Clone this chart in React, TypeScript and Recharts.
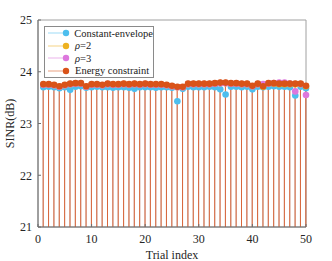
import {
  Bar,
  ComposedChart,
  Label,
  Line,
  ReferenceArea,
  XAxis,
  YAxis,
} from "recharts";

const trials = Array.from({ length: 50 }, (_, i) => i + 1);

const constantEnvelope = [
  23.7, 23.71, 23.7, 23.68, 23.7, 23.65, 23.71, 23.72, 23.69, 23.7,
  23.71, 23.7, 23.7, 23.69, 23.7, 23.7, 23.69, 23.67, 23.7, 23.7,
  23.7, 23.69, 23.7, 23.7, 23.69, 23.43, 23.67, 23.71, 23.7, 23.7,
  23.7, 23.71, 23.7, 23.66, 23.56, 23.71, 23.71, 23.7, 23.71, 23.66,
  23.71, 23.7, 23.71, 23.72, 23.71, 23.71, 23.7, 23.54, 23.71, 23.68,
];

const rho2 = [
  23.75, 23.75, 23.74, 23.71, 23.74, 23.76, 23.77, 23.77, 23.71, 23.75,
  23.75, 23.74, 23.76, 23.75, 23.75, 23.76, 23.75, 23.76, 23.75, 23.76,
  23.75, 23.75, 23.75, 23.74, 23.72, 23.7, 23.7, 23.76, 23.76, 23.76,
  23.76, 23.76, 23.77, 23.78, 23.78, 23.77, 23.77, 23.76, 23.76, 23.72,
  23.76, 23.71, 23.77, 23.77, 23.76, 23.76, 23.76, 23.76, 23.76, 23.72,
];

const rho3 = [
  23.75, 23.75, 23.74, 23.71, 23.74, 23.76, 23.77, 23.77, 23.71, 23.75,
  23.75, 23.74, 23.76, 23.75, 23.75, 23.76, 23.75, 23.76, 23.75, 23.76,
  23.75, 23.75, 23.75, 23.74, 23.72, 23.7, 23.7, 23.76, 23.76, 23.76,
  23.76, 23.76, 23.77, 23.78, 23.78, 23.77, 23.77, 23.76, 23.76, 23.72,
  23.76, 23.76, 23.77, 23.78, 23.79, 23.79, 23.77, 23.62, 23.76, 23.55,
];

const energy = [
  23.76, 23.76, 23.75, 23.72, 23.75, 23.77, 23.78, 23.78, 23.72, 23.76,
  23.76, 23.75, 23.77, 23.76, 23.76, 23.77, 23.76, 23.77, 23.76, 23.77,
  23.76, 23.76, 23.76, 23.75, 23.73, 23.71, 23.71, 23.77, 23.77, 23.77,
  23.77, 23.77, 23.78, 23.79, 23.79, 23.78, 23.78, 23.77, 23.77, 23.73,
  23.77, 23.72, 23.78, 23.78, 23.77, 23.77, 23.77, 23.77, 23.77, 23.73,
];

const xTicks = [0, 10, 20, 30, 40, 50];
const yTicks = [21, 22, 23, 24, 25];

const series = [
  { key: "ce", name: "Constant-envelope", color: "#4DBEEE" },
  { key: "r2", name: "\u03c1=2", color: "#EDB120" },
  { key: "r3", name: "\u03c1=3", color: "#DD77DD" },
  { key: "en", name: "Energy constraint", color: "#D95319" },
];

const data = trials.map((t, i) => ({
  trial: t,
  ce: constantEnvelope[i],
  r2: rho2[i],
  r3: rho3[i],
  en: energy[i],
}));

const font = "'Times New Roman', Times, 'Liberation Serif', 'DejaVu Serif', serif";
const axisColor = "#6e6e6e";

function StemLegend() {
  return (
    <div
      style={{
        position: "absolute",
        left: 44,
        top: 26,
        border: "1px solid #8a8a8a",
        background: "#fff",
        width: 108,
        height: 50,
        fontFamily: font,
        fontSize: 10.5,
        color: "#1a1a1a",
      }}
    >
      {series.map((s) => (
        <div
          key={s.key}
          style={{ display: "flex", alignItems: "center", height: 12.5 }}
        >
          <svg width={28} height={10} style={{ marginLeft: 2 }}>
            <line x1={1} y1={5} x2={21} y2={5} stroke={s.color} strokeOpacity={0.55} />
            <circle cx={19} cy={5} r={3.2} fill={s.color} />
          </svg>
          <span style={{ whiteSpace: "nowrap" }}>
            {s.name.startsWith("\u03c1") ? (
              <>
                <i>{"\u03c1"}</i>
                {s.name.slice(1)}
              </>
            ) : (
              s.name
            )}
          </span>
        </div>
      ))}
    </div>
  );
}

export default function App() {
  return (
    <div style={{ width: 332, height: 261, position: "relative", fontFamily: font }}>
      <style>{"body{margin:0}"}</style>
      <ComposedChart
        width={332}
        height={261}
        data={data}
        margin={{ top: 20, right: 26, bottom: 0, left: 0 }}
        barGap={-1}
        style={{ fontFamily: font }}
      >
        <XAxis
          dataKey="trial"
          type="number"
          domain={[0, 50]}
          ticks={xTicks}
          height={34}
          stroke={axisColor}
          tickSize={-3}
          tickMargin={10}
          tick={{ fill: "#262626", fontSize: 12, fontFamily: font }}
        >
          <Label
            value="Trial index"
            position="insideBottom"
            offset={2}
            fontFamily={font}
            fontSize={12}
            fill="#262626"
          />
        </XAxis>
        <YAxis
          type="number"
          domain={[21, 25]}
          ticks={yTicks}
          width={38}
          stroke={axisColor}
          tickSize={-3}
          tickMargin={9}
          tick={{ fill: "#262626", fontSize: 12, fontFamily: font }}
        >
          <Label
            value="SINR(dB)"
            angle={-90}
            position="center"
            dx={-9}
            fontFamily={font}
            fontSize={12}
            fill="#262626"
          />
        </YAxis>
        <ReferenceArea
          x1={0}
          x2={50}
          y1={21}
          y2={25}
          fill="none"
          stroke="#a0a0a0"
          strokeWidth={1}
          ifOverflow="visible"
        />
        {series.map((s) => (
          <Bar
            key={"stem-" + s.key}
            dataKey={s.key}
            barSize={1}
            fill={s.color}
            fillOpacity={s.key === "en" ? 0.8 : 0.35}
            isAnimationActive={false}
            legendType="none"
          />
        ))}
        {series.map((s) => (
          <Line
            key={"dot-" + s.key}
            dataKey={s.key}
            name={s.name}
            stroke="none"
            dot={{ r: 3.3, fill: s.color, stroke: "none" }}
            activeDot={false}
            isAnimationActive={false}
          />
        ))}
      </ComposedChart>
      <StemLegend />
    </div>
  );
}
